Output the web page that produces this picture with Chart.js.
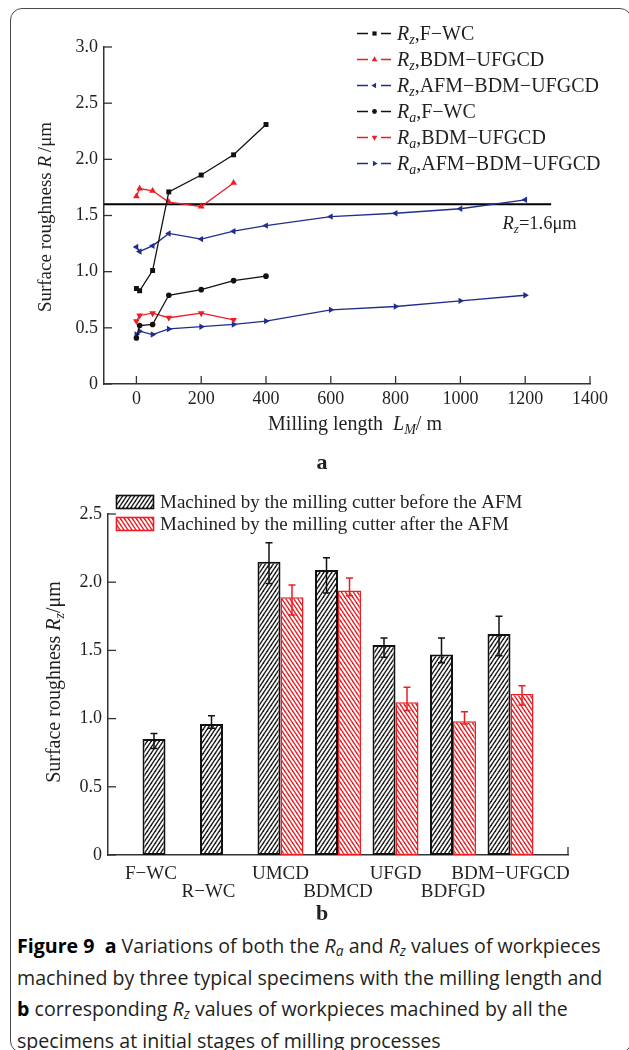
<!DOCTYPE html>
<html>
<head>
<meta charset="utf-8">
<script src="https://cdn.jsdelivr.net/npm/chart.js@4.4.0/dist/chart.umd.min.js"></script>
<style>
  html, body { margin: 0; padding: 0; background: #fff; }
  body { width: 629px; height: 1050px; position: relative; overflow: hidden; }
  #frame { position: absolute; left: 10px; top: 8px; width: 622px; height: 1045px;
           border: 1.5px solid #4a4a4a; border-radius: 12px; box-sizing: border-box; }
  #chartA { position: absolute; left: 0; top: 0; }
  #chartB { position: absolute; left: 0; top: 470px; }
  .panel { position: absolute; width: 40px; text-align: center; font: bold 22px/22px "Liberation Serif", serif; color: #231f20; }
  #caption { position: absolute; left: 17px; top: 930px; font-family: "Open Sans", sans-serif; font-size: 19.6px;
             line-height: 31.5px; color: #231f20; white-space: nowrap; }
  #caption b { color: #000; }
  #caption sub { font-size: 0.7em; line-height: 0; vertical-align: -0.25em; }
</style>
</head>
<body>
<div id="frame"></div>
<canvas id="chartA" width="629" height="450"></canvas>
<div class="panel" style="left:302px; top:451px;">a</div>
<canvas id="chartB" width="629" height="440"></canvas>
<div class="panel" style="left:302px; top:902px;">b</div>
<div id="caption">
  <div><b>Figure 9</b>&nbsp; <b>a</b> Variations of both the <i>R<sub>a</sub></i> and <i>R<sub>z</sub></i> values of workpieces</div>
  <div>machined by three typical specimens with the milling length and</div>
  <div><b>b</b> corresponding <i>R<sub>z</sub></i> values of workpieces machined by all the</div>
  <div>specimens at initial stages of milling processes</div>
</div>

<script>
// ---- panel a: roughness vs milling length ----
const lengthsFWC = [0, 10, 50, 100, 200, 300, 400];
const lengthsBDM = [0, 10, 50, 100, 200, 300];
const lengthsAFM = [0, 10, 50, 100, 200, 300, 400, 600, 800, 1000, 1200];
const rzFWC = [0.85, 0.83, 1.01, 1.71, 1.86, 2.04, 2.31];
const rzBDM = [1.67, 1.74, 1.72, 1.62, 1.58, 1.79];
const rzAFM = [1.22, 1.18, 1.23, 1.34, 1.29, 1.36, 1.41, 1.49, 1.52, 1.56, 1.64];
const raFWC = [0.41, 0.52, 0.53, 0.79, 0.84, 0.92, 0.96];
const raBDM = [0.56, 0.61, 0.63, 0.59, 0.63, 0.57];
const raAFM = [0.44, 0.47, 0.44, 0.49, 0.51, 0.53, 0.56, 0.66, 0.69, 0.74, 0.79];
const lengthTicks = [0, 200, 400, 600, 800, 1000, 1200, 1400];
const refX = [-100, 1280];   // Rz = 1.6 um limit line
const refY = 1.6;

// ---- panel b: Rz of all specimens ----
const specimens = ['F−WC', 'R−WC', 'UMCD', 'BDMCD', 'UFGD', 'BDFGD', 'BDM−UFGCD'];
const rzBefore = [0.85, 0.96, 2.15, 2.09, 1.54, 1.47, 1.62];
const rzBeforeUp = [0.04, 0.06, 0.14, 0.09, 0.05, 0.12, 0.13];
const rzBeforeDown = [0.07, 0.03, 0.16, 0.17, 0.09, 0.06, 0.16];
const rzAfter = [null, null, 1.89, 1.94, 1.12, 0.98, 1.18];
const rzAfterUp = [0, 0, 0.09, 0.09, 0.11, 0.07, 0.06];
const rzAfterDown = [0, 0, 0.13, 0.04, 0.06, 0.02, 0.08];

const ink = '#231f20';
const red = '#ee1d23';
const blue = '#1f2e8c';
const serif = '"Liberation Serif", "Times New Roman", serif';

Chart.defaults.font.family = serif;
Chart.defaults.color = ink;
Chart.defaults.animation = false;

// draw text made of normal / italic / subscript pieces
function richText(ctx, parts, x, y, size, align) {
  const fontFor = s => (s ? 'italic ' : '') + (s === 'sub' ? Math.round(size * 0.68) : size) + 'px ' + serif;
  let w = 0;
  parts.forEach(([t, s]) => { ctx.font = fontFor(s); w += ctx.measureText(t).width; });
  let cx = align === 'center' ? x - w / 2 : align === 'right' ? x - w : x;
  ctx.textAlign = 'left';
  ctx.textBaseline = 'alphabetic';
  parts.forEach(([t, s]) => {
    ctx.font = fontFor(s);
    ctx.fillText(t, cx, y + (s === 'sub' ? size * 0.22 : 0));
    cx += ctx.measureText(t).width;
  });
}

function pts(xs, ys) { return xs.map((x, i) => ({ x: x, y: ys[i] })); }

// diagonal hatch used for the bars
function hatch(color, flip) {
  const c = document.createElement('canvas');
  c.width = 4; c.height = 6;
  const g = c.getContext('2d');
  g.fillStyle = '#fff';
  g.fillRect(0, 0, 4, 6);
  g.strokeStyle = color;
  g.lineWidth = 1.35;
  for (let k = -1; k <= 1; k++) {
    g.beginPath();
    if (flip) { g.moveTo(k * 4 - 1, -1.5); g.lineTo(k * 4 + 5, 7.5); }
    else { g.moveTo(k * 4 - 1, 7.5); g.lineTo(k * 4 + 5, -1.5); }
    g.stroke();
  }
  return g.createPattern(c, 'repeat');
}

// tick marks pointing into the plot
const insideTicks = {
  id: 'insideTicks',
  afterDraw(chart, args, opts) {
    const { ctx, chartArea: a, scales } = chart;
    ctx.save();
    ctx.strokeStyle = '#333';
    ctx.lineWidth = 1.3;
    scales.y.ticks.forEach(t => {
      const py = scales.y.getPixelForValue(t.value);
      ctx.beginPath(); ctx.moveTo(a.left, py); ctx.lineTo(a.left + opts.len, py); ctx.stroke();
    });
    const xs = opts.endOnly ? [a.right] : scales.x.ticks.map(t => scales.x.getPixelForValue(t.value));
    xs.forEach(px => {
      ctx.beginPath(); ctx.moveTo(px, a.bottom); ctx.lineTo(px, a.bottom - opts.len); ctx.stroke();
    });
    ctx.restore();
  }
};

const decorA = {
  id: 'decorA',
  afterDraw(chart) {
    const { ctx, scales: { x, y } } = chart;
    ctx.save();
    let row = 0;
    chart.data.datasets.forEach(ds => {
      if (!ds.legendParts) return;
      const cy = 33.5 + row * 26;
      ctx.strokeStyle = ds.borderColor;
      ctx.lineWidth = 1.3;
      ctx.beginPath();
      ctx.moveTo(357, cy); ctx.lineTo(368, cy);
      ctx.moveTo(381, cy); ctx.lineTo(391, cy);
      ctx.stroke();
      ctx.fillStyle = ds.borderColor;
      Chart.helpers.drawPoint(ctx, { pointStyle: ds.pointStyle, rotation: ds.pointRotation || 0,
        radius: ds.pointRadius * 0.85, borderWidth: 0 }, 374.5, cy);
      ctx.fillStyle = ink;
      richText(ctx, ds.legendParts, 397, cy + 6.5, 20, 'left');
      row++;
    });
    ctx.fillStyle = ink;
    richText(ctx, [['R', 'i'], ['z', 'sub'], ['=1.6μm', '']], x.getPixelForValue(1130), y.getPixelForValue(refY) + 25, 18.5, 'left');
    richText(ctx, [['Milling length  ', ''], ['L', 'i'], ['M', 'sub'], ['/ m', '']], 355, 430, 20, 'center');
    ctx.translate(45, 217);
    ctx.rotate(-Math.PI / 2);
    richText(ctx, [['Surface roughness ', ''], ['R', 'i'], ['\u2009/μm', '']], 0, 6, 19, 'center');
    ctx.restore();
  }
};

const decorB = {
  id: 'decorB',
  afterDraw(chart) {
    const { ctx, chartArea: a } = chart;
    ctx.save();
    chart.data.datasets.forEach((ds, i) => {
      const top = 25 + i * 22;
      ctx.fillStyle = ds.backgroundColor;
      ctx.fillRect(116, top, 38, 14);
      ctx.strokeStyle = ds.borderColor;
      ctx.lineWidth = 1.6;
      ctx.strokeRect(116.5, top + 0.5, 37, 13);
      ctx.fillStyle = ink;
      richText(ctx, [[ds.label, '']], 160, top + 13, 19, 'left');
    });
    // specimen names, centred under the bars that are present, every other one lower
    const metas = chart.data.datasets.map((ds, i) => chart.getDatasetMeta(i));
    chart.data.labels.forEach((name, j) => {
      if (!name) return;
      const xs = [];
      metas.forEach((m, i) => { if (chart.data.datasets[i].data[j] != null) xs.push(m.data[j].x); });
      let cx = xs.reduce((s, v) => s + v, 0) / xs.length;
      if (xs.length === 1) cx -= 3;
      const row = j % 2 === 0 ? 1 : 0;
      ctx.fillStyle = ink;
      richText(ctx, [[name, '']], cx, a.bottom + 23.5 + row * 18.5, 19, 'center');
    });
    ctx.translate(54, 212);
    ctx.rotate(-Math.PI / 2);
    richText(ctx, [['Surface roughness ', ''], ['R', 'i'], ['z', 'sub'], ['/μm', '']], 0, 6, 20, 'center');
    ctx.restore();
  }
};

const errorBars = {
  id: 'errorBars',
  afterDatasetsDraw(chart) {
    const { ctx, scales: { y } } = chart;
    ctx.save();
    chart.data.datasets.forEach((ds, i) => {
      const meta = chart.getDatasetMeta(i);
      meta.data.forEach((bar, j) => {
        const v = ds.data[j];
        if (v == null) return;
        const top = y.getPixelForValue(v + ds.errUp[j - 1]);
        const bot = y.getPixelForValue(v - ds.errDown[j - 1]);
        ctx.strokeStyle = ds.borderColor;
        ctx.lineWidth = 1.5;
        ctx.beginPath();
        ctx.moveTo(bar.x, top); ctx.lineTo(bar.x, bot);
        ctx.moveTo(bar.x - 3.5, top); ctx.lineTo(bar.x + 3.5, top);
        ctx.moveTo(bar.x - 3.5, bot); ctx.lineTo(bar.x + 3.5, bot);
        ctx.stroke();
      });
    });
    ctx.restore();
  }
};

function lineSet(label, parts, xs, ys, color, style, rot, r) {
  return {
    label: label, legendParts: parts, data: pts(xs, ys),
    borderColor: color, backgroundColor: color, borderWidth: 1.3,
    pointStyle: style, pointRotation: rot, pointRadius: r, pointBorderWidth: 0,
    pointBackgroundColor: color, tension: 0
  };
}

new Chart(document.getElementById('chartA'), {
  type: 'line',
  data: {
    datasets: [
      lineSet('Rz,F−WC', [['R', 'i'], ['z', 'sub'], [',F−WC', '']], lengthsFWC, rzFWC, '#111', 'rect', 0, 3.5),
      lineSet('Rz,BDM−UFGCD', [['R', 'i'], ['z', 'sub'], [',BDM−UFGCD', '']], lengthsBDM, rzBDM, red, 'triangle', 0, 3.9),
      lineSet('Rz,AFM−BDM−UFGCD', [['R', 'i'], ['z', 'sub'], [',AFM−BDM−UFGCD', '']], lengthsAFM, rzAFM, blue, 'triangle', -90, 3.7),
      lineSet('Ra,F−WC', [['R', 'i'], ['a', 'sub'], [',F−WC', '']], lengthsFWC, raFWC, '#111', 'circle', 0, 2.8),
      lineSet('Ra,BDM−UFGCD', [['R', 'i'], ['a', 'sub'], [',BDM−UFGCD', '']], lengthsBDM, raBDM, red, 'triangle', 180, 3.9),
      lineSet('Ra,AFM−BDM−UFGCD', [['R', 'i'], ['a', 'sub'], [',AFM−BDM−UFGCD', '']], lengthsAFM, raAFM, blue, 'triangle', 90, 3.7),
      { label: 'Rz=1.6μm', data: refX.map(x => ({ x: x, y: refY })), borderColor: '#000', borderWidth: 2,
        pointRadius: 0, tension: 0 }
    ]
  },
  options: {
    responsive: false,
    layout: { padding: { left: 44, right: 39, top: 47, bottom: 26 } },
    plugins: { legend: { display: false }, tooltip: { enabled: false }, insideTicks: { len: 8 } },
    scales: {
      x: {
        type: 'linear', min: -100, max: 1400,
        afterBuildTicks: s => { s.ticks = lengthTicks.map(v => ({ value: v })); },
        afterFit: s => { s.height = 40; },
        grid: { display: false, drawTicks: false },
        border: { color: '#333', width: 1.5 },
        ticks: { font: { size: 18 }, color: ink, padding: 4, maxRotation: 0, autoSkip: false, callback: v => String(v) }
      },
      y: {
        min: 0, max: 3,
        afterFit: s => { s.width = 60; },
        grid: { display: false, drawTicks: false },
        border: { color: '#333', width: 1.5 },
        ticks: { stepSize: 0.5, font: { size: 18 }, color: ink, padding: 6,
                 callback: v => v === 0 ? '0' : v.toFixed(1) }
      }
    }
  },
  plugins: [insideTicks, decorA]
});

new Chart(document.getElementById('chartB'), {
  type: 'bar',
  data: {
    labels: ['', ...specimens, ''],
    datasets: [
      { label: 'Machined by the milling cutter before the AFM', data: [null, ...rzBefore, null],
        errUp: rzBeforeUp, errDown: rzBeforeDown,
        backgroundColor: hatch('#1a1a1a', false), borderColor: '#111', borderWidth: 2, borderSkipped: false,
        categoryPercentage: 0.8, barPercentage: 1 },
      { label: 'Machined by the milling cutter after the AFM', data: [null, ...rzAfter, null],
        errUp: rzAfterUp, errDown: rzAfterDown,
        backgroundColor: hatch(red, true), borderColor: red, borderWidth: 1.5, borderSkipped: false,
        categoryPercentage: 0.8, barPercentage: 1 }
    ]
  },
  options: {
    responsive: false,
    layout: { padding: { left: 48, right: 61, top: 44, bottom: 5 } },
    plugins: { legend: { display: false }, tooltip: { enabled: false }, insideTicks: { len: 8, endOnly: true } },
    scales: {
      x: {
        offset: false,
        afterFit: s => { s.height = 50; },
        grid: { display: false, drawTicks: false },
        border: { color: '#333', width: 1.5 },
        ticks: { display: false }
      },
      y: {
        min: 0, max: 2.5,
        afterFit: s => { s.width = 60; },
        grid: { display: false, drawTicks: false },
        border: { color: '#333', width: 1.5 },
        ticks: { stepSize: 0.5, font: { size: 18 }, color: ink, padding: 6,
                 callback: v => v === 0 ? '0' : v.toFixed(1) }
      }
    }
  },
  plugins: [insideTicks, errorBars, decorB]
});
</script>
</body>
</html>
